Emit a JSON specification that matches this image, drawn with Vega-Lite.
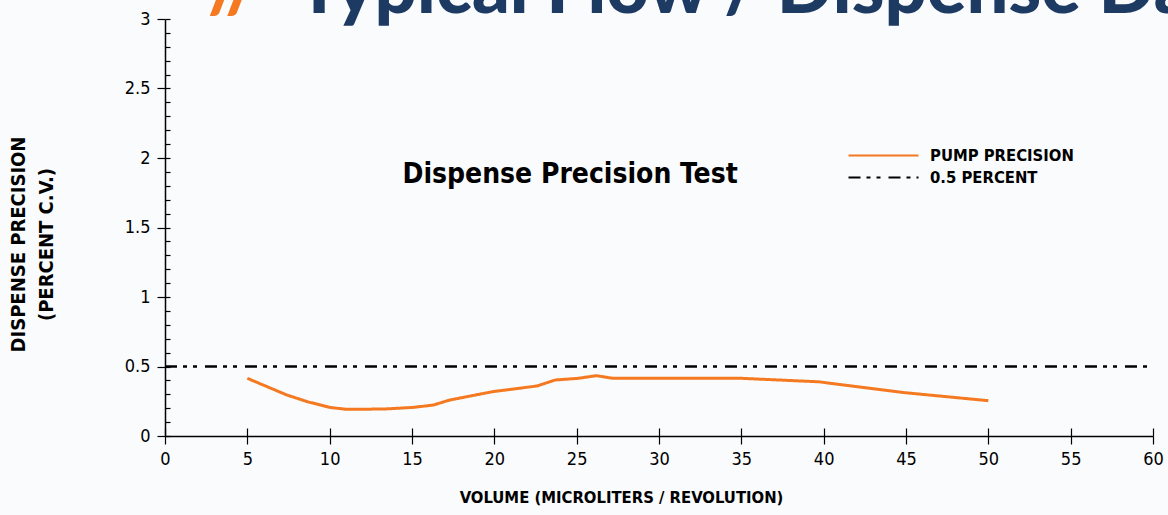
{
  "$schema": "https://vega.github.io/schema/vega-lite/v6.json",
  "width": 988,
  "height": 417,
  "autosize": {"type": "none"},
  "padding": {"left": 165, "top": 19, "right": 15, "bottom": 79},
  "background": "#f9fbfd",
  "config": {
    "view": {"stroke": null},
    "axis": {"grid": false, "domainColor": "#000", "tickColor": "#000", "labelColor": "#000", "titleColor": "#000", "domainWidth": 1.5, "tickWidth": 1.2}
  },
  "datasets": {
    "lines": [
      {"series": "PUMP PRECISION", "volume": 5.0, "cv": 0.415},
      {"series": "PUMP PRECISION", "volume": 7.4, "cv": 0.295},
      {"series": "PUMP PRECISION", "volume": 8.7, "cv": 0.245},
      {"series": "PUMP PRECISION", "volume": 10.0, "cv": 0.206},
      {"series": "PUMP PRECISION", "volume": 11.0, "cv": 0.192},
      {"series": "PUMP PRECISION", "volume": 13.3, "cv": 0.194},
      {"series": "PUMP PRECISION", "volume": 15.1, "cv": 0.206},
      {"series": "PUMP PRECISION", "volume": 16.3, "cv": 0.223},
      {"series": "PUMP PRECISION", "volume": 17.3, "cv": 0.259},
      {"series": "PUMP PRECISION", "volume": 19.9, "cv": 0.319},
      {"series": "PUMP PRECISION", "volume": 22.6, "cv": 0.36},
      {"series": "PUMP PRECISION", "volume": 23.7, "cv": 0.403},
      {"series": "PUMP PRECISION", "volume": 25.1, "cv": 0.415},
      {"series": "PUMP PRECISION", "volume": 26.2, "cv": 0.434},
      {"series": "PUMP PRECISION", "volume": 27.2, "cv": 0.415},
      {"series": "PUMP PRECISION", "volume": 35.0, "cv": 0.415},
      {"series": "PUMP PRECISION", "volume": 39.7, "cv": 0.39},
      {"series": "PUMP PRECISION", "volume": 44.9, "cv": 0.312},
      {"series": "PUMP PRECISION", "volume": 50.0, "cv": 0.254},
      {"series": "0.5 PERCENT", "volume": 0, "cv": 0.5},
      {"series": "0.5 PERCENT", "volume": 59.8, "cv": 0.5}
    ],
    "header": [
      {"part": "slash", "text": "//", "volume": 2.6, "cv": 3.043},
      {"part": "title", "text": "Typical Flow / Dispense Data", "volume": 8.0, "cv": 3.043}
    ],
    "inner": [
      {"text": "Dispense Precision Test", "volume": 24.6, "cv": 1.88}
    ]
  },
  "resolve": {"axis": {"x": "independent", "y": "independent"}},
  "layer": [
    {
      "data": {"name": "lines"},
      "transform": [{"filter": "datum.series === '0.5 PERCENT'"}],
      "mark": {"type": "line", "strokeWidth": 2.5, "clip": false},
      "encoding": {
        "x": {
          "field": "volume", "type": "quantitative",
          "scale": {"domain": [0, 60], "nice": false, "zero": true},
          "axis": {
            "orient": "bottom",
            "values": [0, 5, 10, 15, 20, 25, 30, 35, 40, 45, 50, 55, 60],
            "tickSize": 8,
            "labelFlush": false,
            "labelFont": "DejaVu Sans Condensed, Roboto, sans-serif",
            "labelFontSize": 18,
            "labelPadding": 6,
            "title": "VOLUME (MICROLITERS / REVOLUTION)",
            "titleFont": "DejaVu Sans Condensed, Roboto, sans-serif",
            "titleFontWeight": "bold",
            "titleFontSize": 16.5,
            "titleX": 456,
            "titleY": 53
          }
        },
        "y": {
          "field": "cv", "type": "quantitative",
          "scale": {"domain": [0, 3], "nice": false},
          "axis": {
            "orient": "left",
            "values": [0, 0.5, 1, 1.5, 2, 2.5, 3],
            "format": ".1~f",
            "tickSize": 8,
            "labelFlush": false,
            "labelFont": "DejaVu Sans Condensed, Roboto, sans-serif",
            "labelFontSize": 18,
            "labelPadding": 7,
            "title": ["DISPENSE PRECISION", "(PERCENT C.V.)"],
            "titleFont": "DejaVu Sans Condensed, Roboto, sans-serif",
            "titleFontWeight": "bold",
            "titleFontSize": 20,
            "titleLineHeight": 28,
            "titleX": -137,
            "titleY": 225
          }
        },
        "color": {
          "field": "series", "type": "nominal",
          "scale": {"domain": ["PUMP PRECISION", "0.5 PERCENT"], "range": ["#f47920", "#000000"]},
          "legend": {
            "orient": "none", "legendX": 707, "legendY": 125, "title": null,
            "symbolType": "M-3.5,0H3.5", "symbolSize": 400, "symbolStrokeWidth": 2.2,
            "labelFont": "DejaVu Sans Condensed, Roboto, sans-serif", "labelFontWeight": "bold", "labelFontSize": 16.5,
            "labelColor": "#000", "labelOffset": 35, "rowPadding": 2
          }
        },
        "strokeDash": {
          "field": "series", "type": "nominal",
          "scale": {"domain": ["PUMP PRECISION", "0.5 PERCENT"], "range": [[1, 0], [12, 6, 4, 6, 4, 8]]},
          "legend": null
        }
      }
    },
    {
      "data": {"name": "lines"},
      "transform": [{"filter": "datum.series === 'PUMP PRECISION'"}],
      "mark": {"type": "line", "strokeWidth": 3, "clip": false},
      "encoding": {
        "x": {"field": "volume", "type": "quantitative", "axis": null},
        "y": {"field": "cv", "type": "quantitative", "axis": null},
        "color": {"field": "series", "type": "nominal"},
        "strokeDash": {"field": "series", "type": "nominal"}
      }
    },
    {
      "data": {"name": "header"},
      "transform": [{"filter": "datum.part === 'slash'"}],
      "mark": {"type": "text", "align": "left", "baseline": "alphabetic", "font": "Lato", "fontWeight": 900, "fontSize": 74, "color": "#f47920", "clip": false},
      "encoding": {
        "x": {
          "field": "volume", "type": "quantitative",
          "axis": {"orient": "bottom", "values": [0, 5, 10, 15, 20, 25, 30, 35, 40, 45, 50, 55, 60], "tickSize": -8, "labels": false, "domain": false, "title": null}
        },
        "y": {
          "field": "cv", "type": "quantitative",
          "axis": {"orient": "left", "values": [0, 0.1, 0.2, 0.3, 0.4, 0.5, 0.6, 0.7, 0.8, 0.9, 1, 1.1, 1.2, 1.3, 1.4, 1.5, 1.6, 1.7, 1.8, 1.9, 2, 2.1, 2.2, 2.3, 2.4, 2.5, 2.6, 2.7, 2.8, 2.9, 3], "tickSize": -5, "labels": false, "domain": false, "title": null}
        },
        "text": {"field": "text"}
      }
    },
    {
      "data": {"name": "header"},
      "transform": [{"filter": "datum.part === 'title'"}],
      "mark": {"type": "text", "align": "left", "baseline": "alphabetic", "font": "Lato", "fontWeight": 900, "fontSize": 74, "color": "#1d3a62", "clip": false},
      "encoding": {
        "x": {"field": "volume", "type": "quantitative", "axis": null},
        "y": {"field": "cv", "type": "quantitative", "axis": null},
        "text": {"field": "text"}
      }
    },
    {
      "data": {"name": "inner"},
      "mark": {"type": "text", "align": "center", "baseline": "middle", "font": "DejaVu Sans Condensed, Roboto, sans-serif", "fontWeight": "bold", "fontSize": 28, "color": "#000"},
      "encoding": {
        "x": {"field": "volume", "type": "quantitative", "axis": null},
        "y": {"field": "cv", "type": "quantitative", "axis": null},
        "text": {"field": "text"}
      }
    }
  ]
}
